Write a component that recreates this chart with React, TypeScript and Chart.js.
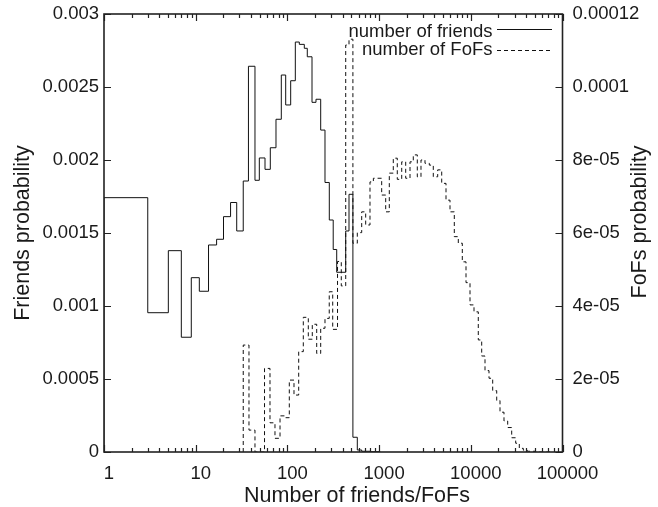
import React, { useEffect, useRef } from 'react';
import { Chart, registerables } from 'chart.js';

Chart.register(...registerables);

// ---------- data ----------
// bin edges for the number-of-friends histogram
const FRIENDS_EDGES = [
  1, 3.0, 5.03, 6.97, 8.95, 10.95, 13.8, 16.9, 20.1, 24.0, 28.0, 33.0, 37.6, 44.3, 49.4, 57.0,
  65.1, 75.1, 85.8, 95.8, 108.6, 122, 134.9, 152.9, 164.8, 185.5, 205, 230.7, 257, 286.4, 315.9,
  344.9, 432.4, 469.7, 518, 578.5, 646, 796, 1023,
];
const FRIENDS_PROB = [
  0.001742, 0.000954, 0.001379, 0.000786, 0.001194, 0.001101, 0.001418, 0.001457, 0.001612,
  0.001709, 0.001514, 0.001856, 0.002642, 0.001861, 0.002014, 0.001936, 0.002084, 0.002279,
  0.002582, 0.002377, 0.002543, 0.002808, 0.002792, 0.002765, 0.002707, 0.002395, 0.002416,
  0.002205, 0.001846, 0.001589, 0.001387, 0.001231, 0.001514, 0.001765, 0.000101, 0.0000137,
  0.000005, 0.000002,
];

// bin edges for the number-of-FoFs histogram
const FOF_EDGES = [
  33.0, 38.1, 44.3, 56.3, 64.6, 73.2, 83.1, 94.2, 104.9, 118, 132.8, 149.1, 169, 186.8, 208.7,
  230.7, 257, 286, 312, 352, 387, 432.4, 469.7, 518, 578.5, 646, 714, 795.6, 866, 941.4, 1067,
  1180, 1292, 1428, 1579, 1764, 1950, 2173, 2360, 2610, 2863, 3166, 3527, 3899, 4355, 4817, 5365,
  5932, 6610, 7307, 8079, 8866, 9802, 10837, 12071, 13148, 14287, 15795, 17331, 19164, 20818,
  23017, 25257, 27925, 30874, 33800, 37370, 41310, 50130, 73080,
];
const FOF_PROB = [
  2.93e-5, 6.0e-6, 0, 2.29e-5, 8.0e-6, 3.75e-6, 9.9e-6, 9.4e-6, 1.97e-5, 1.56e-5, 2.75e-5,
  3.69e-5, 3.09e-5, 3.5e-5, 2.7e-5, 3.39e-5, 3.66e-5, 4.39e-5, 3.36e-5, 5.22e-5, 4.55e-5,
  1.115e-4, 1.131e-4, 5.72e-5, 6.01e-5, 6.58e-5, 6.22e-5, 7.4e-5, 7.5e-5, 7.5e-5, 7.04e-5,
  6.58e-5, 7.64e-5, 8.05e-5, 7.47e-5, 7.95e-5, 7.5e-5, 7.95e-5, 8.14e-5, 7.54e-5, 8.0e-5,
  7.91e-5, 7.86e-5, 7.54e-5, 7.73e-5, 7.36e-5, 6.9e-5, 6.58e-5, 5.9e-5, 5.72e-5, 5.21e-5,
  4.64e-5, 4.03e-5, 3.84e-5, 3.07e-5, 2.63e-5, 2.23e-5, 2.02e-5, 1.68e-5, 1.41e-5, 1.09e-5,
  8.5e-6, 6.7e-6, 3.9e-6, 2.4e-6, 1.0e-6, 5e-7, 2e-7, 0,
];

// tick values and labels
const X_MAJOR_TICKS = [1, 10, 100, 1000, 10000, 100000];
const X_MAJOR_LABELS = ['1', '10', '100', '1000', '10000', '100000'];
const X_MINOR_MULTIPLIERS = [2, 3, 4, 5, 6, 7, 8, 9];
const Y_LEFT_TICKS = [0, 0.0005, 0.001, 0.0015, 0.002, 0.0025, 0.003];
const Y_LEFT_LABELS = ['0', '0.0005', '0.001', '0.0015', '0.002', '0.0025', '0.003'];
const Y_RIGHT_TICKS = [0, 2e-5, 4e-5, 6e-5, 8e-5, 1e-4, 1.2e-4];
const Y_RIGHT_LABELS = ['0', '2e-05', '4e-05', '6e-05', '8e-05', '0.0001', '0.00012'];

const SERIES_LABELS = ['number of friends', 'number of FoFs'];
const X_TITLE = 'Number of friends/FoFs';
const Y_LEFT_TITLE = 'Friends probability';
const Y_RIGHT_TITLE = 'FoFs probability';

// ---------- styling ----------
const FONT = '"Liberation Sans", Arial, Helvetica, sans-serif';
const TEXT_COLOR = '#1a1a1a';
const LINE_COLOR = '#111';
const DASH = [4, 3];

function histPoints(edges: number[], values: number[]) {
  const n = values.length;
  const pts: { x: number; y: number }[] = [{ x: edges[0], y: 0 }];
  for (let i = 0; i < n; i++) pts.push({ x: edges[i], y: values[i] });
  pts.push({ x: edges[n], y: values[n - 1] });
  pts.push({ x: edges[n], y: 0 });
  return pts;
}

const xMinorTicks: number[] = [];
for (const d of X_MAJOR_TICKS.slice(0, -1)) for (const m of X_MINOR_MULTIPLIERS) xMinorTicks.push(d * m);

const framePlugin = {
  id: 'gnuplotFrame',
  afterDatasetsDraw(chart: any) {
    const { ctx, chartArea: a, scales } = chart;
    const xs = scales.x;
    const yl = scales.y;
    const yr = scales.y1;
    ctx.save();
    ctx.strokeStyle = '#222';
    ctx.lineWidth = 1.2;
    const major = 7;
    const minor = 4;
    ctx.beginPath();
    for (const v of X_MAJOR_TICKS) {
      const px = Math.round(xs.getPixelForValue(v)) + 0.5;
      ctx.moveTo(px, a.bottom); ctx.lineTo(px, a.bottom - major);
      ctx.moveTo(px, a.top); ctx.lineTo(px, a.top + major);
    }
    for (const v of xMinorTicks) {
      const px = Math.round(xs.getPixelForValue(v)) + 0.5;
      ctx.moveTo(px, a.bottom); ctx.lineTo(px, a.bottom - minor);
      ctx.moveTo(px, a.top); ctx.lineTo(px, a.top + minor);
    }
    for (const v of Y_LEFT_TICKS) {
      const py = Math.round(yl.getPixelForValue(v)) + 0.5;
      ctx.moveTo(a.left, py); ctx.lineTo(a.left + major, py);
    }
    for (const v of Y_RIGHT_TICKS) {
      const py = Math.round(yr.getPixelForValue(v)) + 0.5;
      ctx.moveTo(a.right, py); ctx.lineTo(a.right - major, py);
    }
    ctx.stroke();
    ctx.lineWidth = 1.6;
    ctx.strokeRect(a.left, a.top, a.right - a.left, a.bottom - a.top);
    ctx.restore();
  },
  afterDraw(chart: any) {
    const { ctx } = chart;
    ctx.save();
    ctx.fillStyle = TEXT_COLOR;
    // axis titles
    ctx.font = `21.5px ${FONT}`;
    ctx.textAlign = 'center';
    ctx.textBaseline = 'alphabetic';
    ctx.fillText(X_TITLE, 357, 501.5);
    ctx.save();
    ctx.translate(29, 233);
    ctx.rotate(-Math.PI / 2);
    ctx.fillText(Y_LEFT_TITLE, 0, 0);
    ctx.restore();
    ctx.save();
    ctx.translate(645.5, 222);
    ctx.rotate(-Math.PI / 2);
    ctx.fillText(Y_RIGHT_TITLE, 0, 0);
    ctx.restore();
    // key
    ctx.font = `18.5px ${FONT}`;
    ctx.textAlign = 'right';
    ctx.fillText(SERIES_LABELS[0], 492.5, 36.5);
    ctx.fillText(SERIES_LABELS[1], 492.5, 55);
    ctx.strokeStyle = LINE_COLOR;
    ctx.lineWidth = 1;
    ctx.beginPath();
    ctx.moveTo(497, 29.5); ctx.lineTo(552, 29.5);
    ctx.stroke();
    ctx.setLineDash(DASH);
    ctx.beginPath();
    ctx.moveTo(497, 50.5); ctx.lineTo(552, 50.5);
    ctx.stroke();
    ctx.restore();
  },
};

export default function App() {
  const ref = useRef<HTMLCanvasElement | null>(null);
  useEffect(() => {
    document.body.style.margin = '0';
    const canvas = ref.current;
    if (!canvas) return;
    const tickFont = { family: FONT, size: 18.5 };
    const chart = new Chart(canvas, {
      type: 'line',
      data: {
        datasets: [
          {
            label: SERIES_LABELS[0],
            data: histPoints(FRIENDS_EDGES, FRIENDS_PROB),
            yAxisID: 'y',
            stepped: 'before',
            borderColor: LINE_COLOR,
            borderWidth: 1,
            pointRadius: 0,
            fill: false,
          },
          {
            label: SERIES_LABELS[1],
            data: histPoints(FOF_EDGES, FOF_PROB),
            yAxisID: 'y1',
            stepped: 'before',
            borderColor: LINE_COLOR,
            borderWidth: 1,
            borderDash: DASH,
            pointRadius: 0,
            fill: false,
          },
        ],
      } as any,
      options: {
        animation: false,
        responsive: false,
        maintainAspectRatio: false,
        devicePixelRatio: 1,
        layout: { padding: { top: 14, left: 0, right: 0, bottom: 0 } },
        plugins: { legend: { display: false }, tooltip: { enabled: false } },
        scales: {
          x: {
            type: 'logarithmic',
            position: 'bottom',
            min: 1,
            max: 100000,
            grid: { display: false, drawTicks: false },
            border: { display: false },
            afterBuildTicks: (s: any) => {
              s.ticks = X_MAJOR_TICKS.map((v) => ({ value: v }));
            },
            afterFit: (s: any) => {
              s.height = 55;
              s.paddingLeft = 0;
              s.paddingRight = 0;
            },
            ticks: {
              autoSkip: false,
              maxRotation: 0,
              padding: 11,
              labelOffset: 5,
              color: TEXT_COLOR,
              font: tickFont,
              callback: (v: any) => {
                const i = X_MAJOR_TICKS.indexOf(Number(v));
                return i >= 0 ? X_MAJOR_LABELS[i] : '';
              },
            },
          },
          y: {
            type: 'linear',
            position: 'left',
            min: 0,
            max: 0.003,
            grid: { display: false, drawTicks: false },
            border: { display: false },
            afterBuildTicks: (s: any) => {
              s.ticks = Y_LEFT_TICKS.map((v) => ({ value: v }));
            },
            afterFit: (s: any) => {
              s.width = 104;
              s.paddingTop = 0;
              s.paddingBottom = 0;
            },
            ticks: {
              autoSkip: false,
              padding: 5,
              color: TEXT_COLOR,
              font: tickFont,
              callback: (_v: any, i: number) => Y_LEFT_LABELS[i],
            },
          },
          y1: {
            type: 'linear',
            position: 'right',
            min: 0,
            max: 0.00012,
            grid: { display: false, drawTicks: false },
            border: { display: false },
            afterBuildTicks: (s: any) => {
              s.ticks = Y_RIGHT_TICKS.map((v) => ({ value: v }));
            },
            afterFit: (s: any) => {
              s.width = 95.5;
              s.paddingTop = 0;
              s.paddingBottom = 0;
            },
            ticks: {
              autoSkip: false,
              padding: 10,
              color: TEXT_COLOR,
              font: tickFont,
              callback: (_v: any, i: number) => Y_RIGHT_LABELS[i],
            },
          },
        },
      } as any,
      plugins: [framePlugin],
    });
    return () => chart.destroy();
  }, []);
  return (
    <div style={{ width: 658, height: 507, background: '#fff' }}>
      <canvas ref={ref} width={658} height={507} style={{ display: 'block', width: 658, height: 507 }} />
    </div>
  );
}
